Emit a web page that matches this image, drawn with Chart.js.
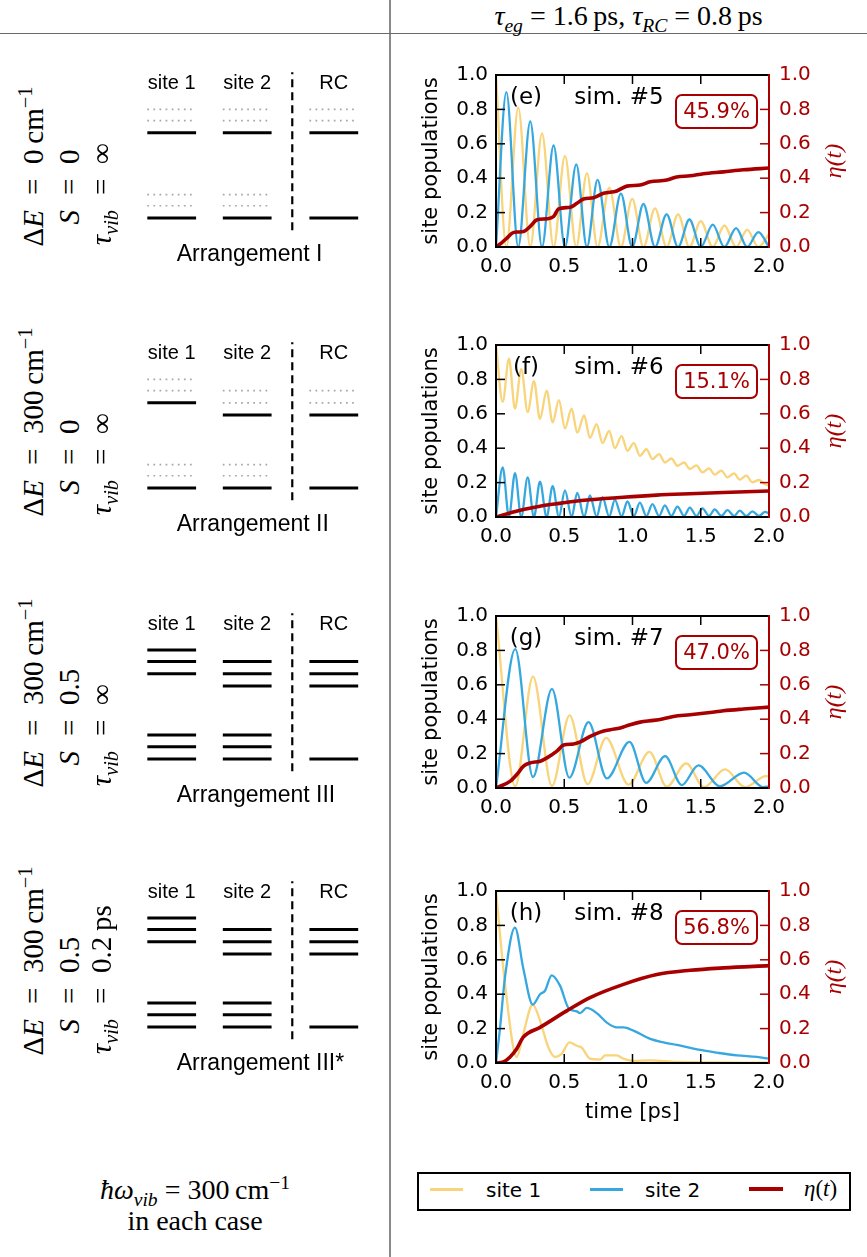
<!DOCTYPE html>
<html>
<head>
<meta charset="utf-8">
<title>Site populations and trapping efficiency</title>
<script src="https://cdn.jsdelivr.net/npm/chart.js@4.4.1/dist/chart.umd.min.js"></script>
<style>
  html, body { margin: 0; padding: 0; background: #fff; }
  #page { position: relative; width: 867px; height: 1257px; overflow: hidden; background: #fff; }
  canvas { position: absolute; }
  .tex { position: absolute; font-family: "Liberation Serif", serif; color: #000; white-space: nowrap; }
  .tex sub, .tex sup { font-size: 70%; line-height: 0; }
  .rot { width: 0; height: 0; transform: rotate(-90deg); transform-origin: 0 0; font-size: 29px; line-height: 1; }
  .rot span { position: absolute; top: -0.5em; white-space: nowrap; }
  .rot .lhs { right: 23px; }
  .rot .eq { left: -0.28em; }
  .rot .rhs { left: 23px; }
  .sep-v { position: absolute; left: 389px; top: 0; width: 1.5px; height: 1257px; background: #8a8a8a; }
  .sep-h { position: absolute; left: 0; top: 32.5px; width: 867px; height: 1.5px; background: #6a6a6a; }
  #legend { position: absolute; left: 417px; top: 1172px; width: 434px; height: 39px; border: 2px solid #000; box-sizing: border-box; }
  .lg-line { position: absolute; height: 3px; }
  .lg-text { position: absolute; font-family: "DejaVu Sans", sans-serif; font-size: 20px; line-height: 24px; }
</style>
</head>
<body>
<div id="page">
  <div class="sep-v"></div>
  <div class="sep-h"></div>
  <div class="tex" style="left:390px; width:477px; top:0px; text-align:center; font-size:28px;">
    <i>τ</i><sub><i>eg</i></sub> = 1.6&#8201;ps, <i>τ</i><sub><i>RC</i></sub> = 0.8&#8201;ps
  </div>
  <div class="tex" style="left:0; width:390px; top:1174px; text-align:center; font-size:28px; line-height:31px;">
    <i>ħω</i><sub><i>vib</i></sub> = 300&#8201;cm<sup>−1</sup><br>in each case
  </div>
  <div id="legend"></div>
  <div class="lg-line" style="left:430px; top:1188px; width:33px; background:#f8d47a;"></div>
  <div class="lg-text" style="left:486px; top:1178px;">site 1</div>
  <div class="lg-line" style="left:590px; top:1188px; width:33px; background:#36a8df;"></div>
  <div class="lg-text" style="left:645px; top:1178px;">site 2</div>
  <div class="lg-line" style="left:749px; top:1187px; width:34px; height:4px; background:#a80000;"></div>
  <div class="tex" style="left:804px; top:1176px; font-size:23px;"><i>η</i>(<i>t</i>)</div>
</div>

<script>
// ---- data (times in ps, populations / efficiency 0..1) ----

// (e) sim. #5 : extrema of the two site populations
const timeE  = [0, 0.076, 0.163, 0.251, 0.337, 0.422, 0.505, 0.588, 0.666, 0.744, 0.83, 0.915, 0.998,
                1.08, 1.165, 1.25, 1.334, 1.417, 1.5, 1.588, 1.673, 1.759, 1.84, 1.922, 2.0];
const site1E = [1.0, 0.0, 0.81, 0.0, 0.66, 0.0, 0.53, 0.0, 0.43, 0.0, 0.345, 0.0, 0.28,
                0.0, 0.225, 0.0, 0.19, 0.0, 0.15, 0.0, 0.125, 0.0, 0.10, 0.0, 0.075];
const site2E = [0.0, 0.90, 0.0, 0.73, 0.0, 0.59, 0.0, 0.48, 0.0, 0.39, 0.0, 0.31, 0.0,
                0.25, 0.0, 0.19, 0.0, 0.16, 0.0, 0.13, 0.0, 0.11, 0.0, 0.087, 0.0];
const etaTimeE = [0, 0.039, 0.08, 0.117, 0.154, 0.202, 0.251, 0.3, 0.373, 0.422, 0.459, 0.544, 0.593, 0.641,
                  0.715, 0.788, 0.885, 0.959, 1.056, 1.129, 1.251, 1.324, 1.422, 1.52, 1.666, 1.812, 2.0];
const etaE     = [0, 0.023, 0.052, 0.08, 0.087, 0.09, 0.12, 0.158, 0.164, 0.177, 0.222, 0.231, 0.254, 0.279,
                  0.287, 0.312, 0.326, 0.354, 0.36, 0.379, 0.389, 0.407, 0.414, 0.426, 0.437, 0.449, 0.459];

// (f) sim. #6
const timeF  = [0, 0.049, 0.095, 0.139, 0.185, 0.232, 0.278, 0.322, 0.371, 0.415, 0.461, 0.505, 0.554,
                0.595, 0.646, 0.688, 0.737, 0.78, 0.829, 0.871, 0.92, 0.963, 1.01, 1.054, 1.102, 1.146,
                1.195, 1.237, 1.285, 1.329, 1.378, 1.42, 1.468, 1.512, 1.561, 1.602, 1.651, 1.695, 1.744,
                1.785, 1.834, 1.878, 1.927, 1.971, 2.0];
const site1F = [1.0, 0.67, 0.92, 0.63, 0.86, 0.61, 0.79, 0.57, 0.735, 0.55, 0.68, 0.515, 0.63,
                0.49, 0.59, 0.46, 0.54, 0.43, 0.50, 0.40, 0.47, 0.385, 0.43, 0.356, 0.394, 0.337,
                0.365, 0.317, 0.34, 0.298, 0.317, 0.279, 0.30, 0.26, 0.283, 0.246, 0.27, 0.23, 0.254,
                0.217, 0.24, 0.202, 0.215, 0.19, 0.183];
const site2F = [0.0, 0.288, 0.0, 0.255, 0.0, 0.23, 0.0, 0.205, 0.0, 0.18, 0.0, 0.155, 0.0,
                0.14, 0.0, 0.125, 0.002, 0.115, 0.003, 0.10, 0.004, 0.09, 0.005, 0.083, 0.005, 0.075,
                0.006, 0.068, 0.006, 0.06, 0.006, 0.055, 0.006, 0.05, 0.006, 0.044, 0.006, 0.04, 0.006,
                0.037, 0.006, 0.033, 0.006, 0.03, 0.02];
const etaTimeF = [0, 0.102, 0.2, 0.322, 0.444, 0.566, 0.688, 0.932, 1.176, 1.42, 1.663, 2.0];
const etaF     = [0, 0.023, 0.044, 0.063, 0.077, 0.09, 0.10, 0.115, 0.127, 0.135, 0.142, 0.151];

// (g) sim. #7
const site1TimeG = [0, 0.141, 0.271, 0.41, 0.539, 0.671, 0.807, 0.971, 1.124, 1.251, 1.393, 1.524, 1.678, 1.824, 1.978, 2.0];
const site1G     = [1.0, 0.01, 0.647, 0.012, 0.422, 0.022, 0.291, 0.02, 0.21, 0.008, 0.143, 0.005, 0.108, 0.005, 0.069, 0.067];
const site2TimeG = [0, 0.141, 0.271, 0.41, 0.537, 0.678, 0.812, 0.978, 1.1, 1.239, 1.361, 1.483, 1.641, 1.817, 1.959, 2.0];
const site2G     = [0.0, 0.807, 0.064, 0.576, 0.06, 0.383, 0.056, 0.268, 0.03, 0.185, 0.017, 0.131, 0.01, 0.089, 0.005, 0.01];
const etaTimeG = [0, 0.105, 0.154, 0.202, 0.251, 0.324, 0.373, 0.446, 0.495, 0.568, 0.617, 0.69, 0.763,
                  0.837, 0.91, 0.983, 1.056, 1.154, 1.227, 1.3, 1.422, 1.568, 1.666, 1.812, 2.0];
const etaG     = [0, 0.04, 0.08, 0.127, 0.146, 0.156, 0.175, 0.214, 0.25, 0.256, 0.268, 0.30, 0.325,
                  0.339, 0.349, 0.368, 0.383, 0.393, 0.403, 0.416, 0.426, 0.439, 0.449, 0.459, 0.47];

// (h) sim. #8
const site1TimeH = [0, 0.066, 0.152, 0.2, 0.269, 0.323, 0.384, 0.433, 0.482, 0.538, 0.592, 0.628, 0.689,
                    0.763, 0.8, 0.885, 0.934, 1.007, 1.13, 1.325, 2.0];
const site1H     = [1.0, 0.46, 0.035, 0.17, 0.34, 0.245, 0.09, 0.035, 0.054, 0.12, 0.10, 0.09, 0.025,
                    0.02, 0.044, 0.044, 0.025, 0.012, 0.015, 0.006, 0.002];
const site2TimeH = [0, 0.029, 0.066, 0.139, 0.2, 0.269, 0.323, 0.359, 0.408, 0.469, 0.531, 0.592, 0.616,
                    0.665, 0.738, 0.812, 0.885, 0.934, 1.007, 1.13, 1.227, 1.325, 1.472, 1.619, 1.765, 1.912, 2.0];
const site2H     = [0, 0.2, 0.5, 0.787, 0.55, 0.34, 0.40, 0.42, 0.51, 0.45, 0.32, 0.30, 0.29,
                    0.32, 0.29, 0.235, 0.207, 0.207, 0.188, 0.14, 0.12, 0.105, 0.079, 0.06, 0.044, 0.035, 0.025];
const etaTimeH = [0, 0.054, 0.103, 0.152, 0.2, 0.323, 0.518, 0.689, 0.934, 1.178, 1.423, 1.667, 2.0];
const etaH     = [0, 0.006, 0.035, 0.083, 0.15, 0.207, 0.303, 0.38, 0.457, 0.514, 0.539, 0.553, 0.566];

const efficiencies = ['45.9%', '15.1%', '47.0%', '56.8%'];
const yTicks = [0, 0.2, 0.4, 0.6, 0.8, 1.0];
const xTicks = [0, 0.5, 1.0, 1.5, 2.0];

// energy levels of the left diagrams, in units of the vibrational quantum (ground = 0)
const columns = ['site 1', 'site 2', 'RC'];
const solidI    = [[0, 7.3], [0, 7.3], [0, 7.3]];
const dottedI   = [[1.05, 2.0, 8.35, 9.3], [1.05, 2.0, 8.35, 9.3], [8.35, 9.3]];
const solidII   = [[0, 7.3], [0, 6.25], [0, 6.25]];
const dottedII  = [[1.05, 2.0, 8.35, 9.3], [1.05, 2.0, 7.3, 8.35], [7.3, 8.35]];
const solidIII  = [[0, 1.05, 2.05, 7.3, 8.35, 9.35], [0, 1.05, 2.05, 6.25, 7.3, 8.35], [0, 6.25, 7.3, 8.35]];
const dottedIII = [[], [], []];
const separatorSpan = [-1.05, 12.5];

// ---- drawing ----
const YELLOW = '#f8d47a', BLUE = '#36a8df', RED = '#a80000';
const SANS = '"DejaVu Sans", sans-serif';
const page = document.getElementById('page');

function addCanvas(left, top, w, h) {
  const c = document.createElement('canvas');
  c.width = w; c.height = h;
  c.style.left = left + 'px'; c.style.top = top + 'px';
  c.style.width = w + 'px'; c.style.height = h + 'px';
  page.appendChild(c);
  return c;
}

const pts = (t, v) => t.map((x, i) => ({ x: x, y: v[i] }));

function seg(ctx, x1, y1, x2, y2, color) {
  ctx.strokeStyle = color;
  ctx.beginPath(); ctx.moveTo(x1, y1); ctx.lineTo(x2, y2); ctx.stroke();
}

// frame, inward ticks and annotations of one panel
function panelDecor(p) {
  return {
    id: 'panelDecor',
    afterDatasetsDraw(chart) {
      const { ctx, chartArea: a, scales } = chart;
      const TL = 9;
      ctx.save();
      ctx.lineWidth = 1.5;
      yTicks.forEach(v => {
        const y = scales.y.getPixelForValue(v);
        seg(ctx, a.left, y, a.left + TL, y, '#000');
        seg(ctx, a.right, y, a.right - TL, y, RED);
      });
      xTicks.forEach(v => {
        const x = scales.x.getPixelForValue(v);
        seg(ctx, x, a.top, x, a.top + TL, '#000');
        seg(ctx, x, a.bottom, x, a.bottom - TL, '#000');
      });
      ctx.lineWidth = 2;
      ctx.strokeStyle = '#000';
      ctx.beginPath();
      ctx.moveTo(a.right, a.top); ctx.lineTo(a.left, a.top);
      ctx.lineTo(a.left, a.bottom); ctx.lineTo(a.right, a.bottom);
      ctx.stroke();
      seg(ctx, a.right, a.top - 1, a.right, a.bottom + 1, RED);

      ctx.fillStyle = '#000';
      ctx.font = '23px ' + SANS;
      ctx.textAlign = 'center';
      ctx.textBaseline = 'middle';
      ctx.fillText(p.tag, a.left + 30, a.top + 23);
      ctx.fillText(p.sim, a.left + 123, a.top + 23);

      const bw = 81, bh = 33, cx = a.left + 220.5, cy = a.top + 36.5;
      ctx.fillStyle = '#fff';
      ctx.strokeStyle = RED;
      ctx.lineWidth = 2;
      ctx.beginPath();
      ctx.roundRect(cx - bw / 2, cy - bh / 2, bw, bh, 6);
      ctx.fill(); ctx.stroke();
      ctx.fillStyle = RED;
      ctx.font = '21px ' + SANS;
      ctx.fillText(p.eff, cx, cy + 1);

      ctx.translate(430, (a.top + a.bottom) / 2);
      ctx.rotate(-Math.PI / 2);
      ctx.font = 'italic 24px "Liberation Serif", serif';
      ctx.fillText('η(t)', 0, 0);
      ctx.restore();
    }
  };
}

const PLOT_H = 174, PAD_TOP = 20, LEFT_W = 91, RIGHT_W = 98;
const tickFont = { family: SANS, size: 20 };
const labelFont = { family: SANS, size: 21 };
const noGrid = { display: false, drawTicks: false };

function buildPanel(p) {
  const xh = p.xTitle ? 70 : 35;
  const canvas = addCanvas(405, p.top - PAD_TOP, 462, PAD_TOP + PLOT_H + xh);
  new Chart(canvas, {
    type: 'line',
    data: {
      datasets: [
        { label: 'η(t)', data: pts(p.etaT, p.eta), borderColor: RED, borderWidth: 3.6, yAxisID: 'y2', order: 1 },
        { label: 'site 2', data: pts(p.s2T, p.s2), borderColor: BLUE, borderWidth: 2.3, yAxisID: 'y', order: 2 },
        { label: 'site 1', data: pts(p.s1T, p.s1), borderColor: YELLOW, borderWidth: 2.3, yAxisID: 'y', order: 3 }
      ]
    },
    options: {
      responsive: false,
      animation: false,
      layout: { padding: { top: PAD_TOP, left: 0, right: 0, bottom: 0 } },
      elements: {
        point: { radius: 0 },
        line: { cubicInterpolationMode: 'monotone', borderCapStyle: 'round', borderJoinStyle: 'round' }
      },
      plugins: { legend: { display: false }, tooltip: { enabled: false } },
      scales: {
        x: {
          type: 'linear', min: 0, max: 2,
          grid: noGrid, border: { display: false },
          afterBuildTicks: s => { s.ticks = xTicks.map(v => ({ value: v })); },
          ticks: { autoSkip: false, maxRotation: 0, padding: 8, color: '#000', font: tickFont,
                   callback: v => v.toFixed(1) },
          title: { display: !!p.xTitle, text: 'time [ps]', color: '#000', font: labelFont, padding: { top: 0, bottom: 8 } },
          afterFit: s => { s.height = xh; }
        },
        y: {
          position: 'left', min: 0, max: 1,
          grid: noGrid, border: { display: false },
          afterBuildTicks: s => { s.ticks = yTicks.map(v => ({ value: v })); },
          ticks: { padding: 8, color: '#000', font: tickFont, callback: v => v.toFixed(1) },
          title: { display: true, text: 'site populations', color: '#000', font: labelFont, padding: { top: 14, bottom: 0 } },
          afterFit: s => { s.width = LEFT_W; }
        },
        y2: {
          position: 'right', min: 0, max: 1,
          grid: noGrid, border: { display: false },
          afterBuildTicks: s => { s.ticks = yTicks.map(v => ({ value: v })); },
          ticks: { padding: 10, color: RED, font: tickFont, callback: v => v.toFixed(1) },
          afterFit: s => { s.width = RIGHT_W; }
        }
      }
    },
    plugins: [panelDecor(p)]
  });
}

buildPanel({ top: 73,  tag: '(e)', sim: 'sim. #5', eff: efficiencies[0],
  s1T: timeE, s1: site1E, s2T: timeE, s2: site2E, etaT: etaTimeE, eta: etaE });
buildPanel({ top: 343, tag: '(f)', sim: 'sim. #6', eff: efficiencies[1],
  s1T: timeF, s1: site1F, s2T: timeF, s2: site2F, etaT: etaTimeF, eta: etaF });
buildPanel({ top: 614, tag: '(g)', sim: 'sim. #7', eff: efficiencies[2],
  s1T: site1TimeG, s1: site1G, s2T: site2TimeG, s2: site2G, etaT: etaTimeG, eta: etaG });
buildPanel({ top: 889, tag: '(h)', sim: 'sim. #8', eff: efficiencies[3], xTitle: true,
  s1T: site1TimeH, s1: site1H, s2T: site2TimeH, s2: site2H, etaT: etaTimeH, eta: etaH });

// ---- level diagrams ----
const COL_X = [0, 1, 2.147], HALF_W = 0.323, SEP_X = 1.597;
const COL0_PX = 171.7, PX_PER_COL = 75.5, PX_PER_UNIT = 11.67;

function levelSet(c, e, dotted) {
  return {
    data: [{ x: COL_X[c] - HALF_W, y: e }, { x: COL_X[c] + HALF_W, y: e }],
    borderColor: dotted ? '#a6a6a6' : '#000',
    borderWidth: dotted ? 1.7 : 3,
    borderDash: dotted ? [1.7, 4.4] : [],
    clip: false
  };
}

function diagramLabels(name) {
  return {
    id: 'diagramLabels',
    afterDraw(chart) {
      const { ctx, scales } = chart;
      ctx.save();
      ctx.fillStyle = '#000';
      ctx.textBaseline = 'middle';
      ctx.textAlign = 'center';
      ctx.font = '20px "Liberation Sans", Arial, sans-serif';
      columns.forEach((c, i) => ctx.fillText(c, scales.x.getPixelForValue(COL_X[i]), scales.y.getPixelForValue(11.5)));
      ctx.textAlign = 'left';
      ctx.font = '23px "Liberation Sans", Arial, sans-serif';
      ctx.fillText(name, scales.x.getPixelForValue(0.066), scales.y.getPixelForValue(-3.1));
      ctx.restore();
    }
  };
}

function buildDiagram(d) {
  const left = 120, w = 262, above = 160, h = 222;
  const canvas = addCanvas(left, d.ground - above, w, h);
  const datasets = [];
  d.dotted.forEach((levels, c) => levels.forEach(e => datasets.push(levelSet(c, e, true))));
  d.solid.forEach((levels, c) => levels.forEach(e => datasets.push(levelSet(c, e, false))));
  datasets.push({
    data: [{ x: SEP_X, y: separatorSpan[0] }, { x: SEP_X, y: separatorSpan[1] }],
    borderColor: '#000', borderWidth: 2.2, borderDash: [8, 5], clip: false
  });
  new Chart(canvas, {
    type: 'line',
    data: { datasets },
    options: {
      responsive: false,
      animation: false,
      layout: { padding: 0 },
      elements: { point: { radius: 0 }, line: { tension: 0 } },
      plugins: { legend: { display: false }, tooltip: { enabled: false } },
      scales: {
        x: { type: 'linear', display: false,
             min: (left - COL0_PX) / PX_PER_COL, max: (left + w - COL0_PX) / PX_PER_COL },
        y: { type: 'linear', display: false,
             min: -(h - above) / PX_PER_UNIT, max: above / PX_PER_UNIT }
      }
    },
    plugins: [diagramLabels(d.name)]
  });
}

const diagrams = [
  { ground: 218,  name: 'Arrangement I',    solid: solidI,   dotted: dottedI },
  { ground: 488,  name: 'Arrangement II',   solid: solidII,  dotted: dottedII },
  { ground: 759,  name: 'Arrangement III',  solid: solidIII, dotted: dottedIII },
  { ground: 1027, name: 'Arrangement III*', solid: solidIII, dotted: dottedIII }
];
diagrams.forEach(buildDiagram);

// rotated parameter equations, aligned on the "=" sign
const conditions = [
  ['0&#8201;cm<sup>−1</sup>',   '0',   '∞'],
  ['300&#8201;cm<sup>−1</sup>', '0',   '∞'],
  ['300&#8201;cm<sup>−1</sup>', '0.5', '∞'],
  ['300&#8201;cm<sup>−1</sup>', '0.5', '0.2&#8201;ps']
];
const lhs = ['Δ<i>E</i>', '<i>S</i>', '<i>τ</i><sub><i>vib</i></sub>'];
const eqCols = [33, 69, 101];

diagrams.forEach((d, k) => {
  eqCols.forEach((x, j) => {
    const el = document.createElement('div');
    el.className = 'tex rot';
    el.style.left = x + 'px';
    el.style.top = (d.ground - 31) + 'px';
    el.innerHTML = '<span class="lhs">' + lhs[j] + '</span><span class="eq">=</span><span class="rhs">' + conditions[k][j] + '</span>';
    page.appendChild(el);
  });
});
</script>
</body>
</html>
